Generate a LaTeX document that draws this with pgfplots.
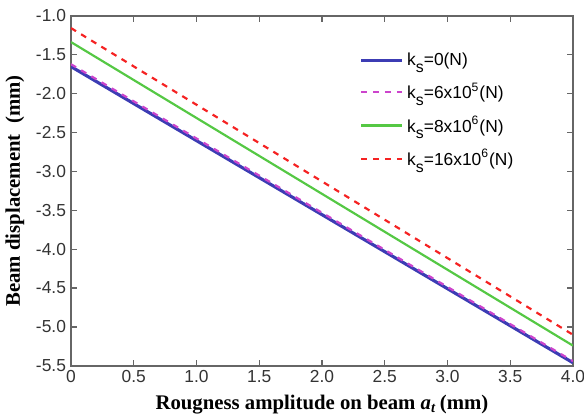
\documentclass[border=0pt]{standalone}
\usepackage{fontspec}
\setmainfont{Liberation Serif}
\setsansfont{Liberation Sans}
\usepackage{pgfplots}
\pgfplotsset{compat=1.18}
\definecolor{lblue}{HTML}{3C3CB4}
\definecolor{lmag}{HTML}{CC44CC}
\definecolor{lgreen}{HTML}{55C844}
\definecolor{lred}{HTML}{F52222}
\newcommand{\ks}{k\raisebox{-0.75ex}{\fontsize{8}{9}\selectfont s}}
\begin{document}
\begin{tikzpicture}
\begin{axis}[
  scale only axis, width=254pt, height=177pt,
  xmin=0, xmax=4, ymin=-5.5, ymax=-1.0,
  xtick={0,0.5,...,4}, ytick={-5.5,-5,...,-1},
  xticklabels={0,0.5,1.0,1.5,2.0,2.5,3.0,3.5,4.0},
  yticklabels={-5.5,-5.0,-4.5,-4.0,-3.5,-3.0,-2.5,-2.0,-1.5,-1.0},
  tick align=inside, tick pos=both, major tick length=3pt,
  tick label style={font=\fontsize{8.8}{10}\selectfont\sffamily, text=black!80},
  xticklabel style={yshift=1pt},
  yticklabel style={xshift=1pt},
  /pgf/number format/assume math mode=true,
  axis line style={draw=black!60, line width=0.8pt},
  tick style={draw=black!60, line width=0.6pt},
  xlabel={\textbf{Rougness amplitude on beam \textit{a}\textsubscript{\textit{t}}\,(mm)}},
  ylabel={\textbf{Beam displacement\ \ (mm)}},
  label style={font=\fontsize{10.5}{12}\selectfont},
  xlabel style={yshift=1pt},
  ylabel style={yshift=-1pt},
  legend style={at={(axis cs:2.25,-1.37)}, anchor=north west, draw=none, fill=none,
    font=\fontsize{8.8}{10}\selectfont\sffamily, row sep=3.2pt},
  legend cell align=left,
  legend image code/.code={\draw[#1] (0cm,0cm) -- (0.72cm,0cm);},
]
\addplot[lblue, line width=1.6pt] coordinates {(0,-1.65) (4,-5.46)};
\addlegendentry{\ks=0(N)}
\addplot[lmag, line width=1.1pt, dashed] coordinates {(0,-1.62) (4,-5.44)};
\addlegendentry{\ks=6x10\textsuperscript{5}(N)}
\addplot[lgreen, line width=1.1pt] coordinates {(0,-1.335) (4,-5.24)};
\addlegendentry{\ks=8x10\textsuperscript{6}(N)}
\addplot[lred, line width=1.1pt, dashed] coordinates {(0,-1.155) (4,-5.10)};
\addlegendentry{\ks=16x10\textsuperscript{6}(N)}
\end{axis}
\pgfresetboundingbox
\path ([xshift=-35.9pt,yshift=8.1pt]current axis.north west)
      ([xshift=5.6pt,yshift=-26.3pt]current axis.south east);
\end{tikzpicture}
\end{document}
